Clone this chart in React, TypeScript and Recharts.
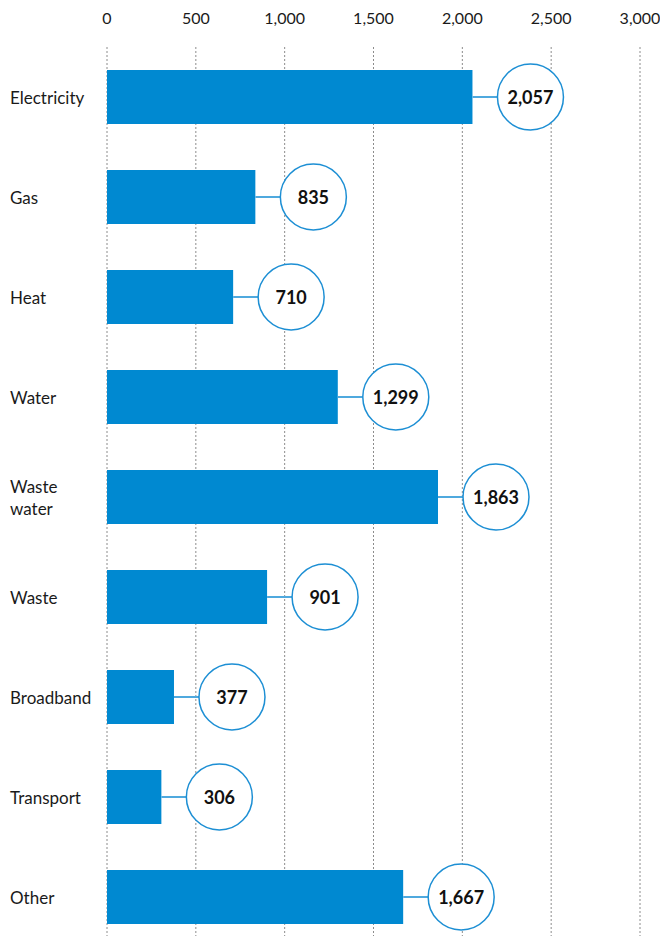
import { BarChart, Bar, XAxis, YAxis, CartesianGrid } from "recharts";

const categories = ["Electricity", "Gas", "Heat", "Water", "Waste water", "Waste", "Broadband", "Transport", "Other"];
const values = [2057, 835, 710, 1299, 1863, 901, 377, 306, 1667];
const ticks = [0, 500, 1000, 1500, 2000, 2500, 3000];

const data = categories.map((name, i) => ({ name, value: values[i] }));

const FONT = "Lato, 'Noto Sans', sans-serif";
const fmt = (v: number) => v.toLocaleString("en-US");

function CategoryTick({ y, payload }: any) {
  const lines = payload.value === "Waste water" ? ["Waste", "water"] : [payload.value];
  const lh = 22;
  const start = y - ((lines.length - 1) * lh) / 2;
  return (
    <text x={10} y={start} fontSize={17} fill="#1a1a1a" fontFamily={FONT} dominantBaseline="central">
      {lines.map((l, i) => (
        <tspan key={l} x={10} y={start + i * lh}>{l}</tspan>
      ))}
    </text>
  );
}

function BubbleBar(props: any) {
  const { x, y, width, height, value } = props;
  const end = x + width;
  const cy = y + height / 2;
  const cx = end + 58;
  const r = 33;
  return (
    <g>
      <rect x={x} y={y} width={width} height={height} fill="#0089d1" />
      <line x1={end} y1={cy} x2={cx - r} y2={cy} stroke="#4fa9de" strokeWidth={2} />
      <circle cx={cx} cy={cy} r={r} fill="#fff" stroke="#1d8fd4" strokeWidth={1.5} />
      <text x={cx} y={cy} textAnchor="middle" dominantBaseline="central" fontSize={18} fontWeight={700} fill="#111" fontFamily={FONT}>
        {fmt(value)}
      </text>
    </g>
  );
}

export default function App() {
  return (
    <div style={{ position: "absolute", left: 0, top: 0, width: 660, height: 936, overflow: "hidden", background: "#fff" }}>
      <BarChart
        width={660}
        height={947}
        data={data}
        layout="vertical"
        margin={{ top: 0, right: 20, bottom: 0, left: 0 }}
        barCategoryGap={46}
      >
        <CartesianGrid horizontal={false} stroke="#8c8c8c" strokeDasharray="2 2" />
        <XAxis
          type="number"
          orientation="top"
          domain={[0, 3000]}
          ticks={ticks}
          height={47}
          axisLine={false}
          tickLine={false}
          tickSize={0}
          tickMargin={23}
          tickFormatter={fmt}
          tick={{ fontSize: 16, fill: "#1a1a1a", fontFamily: FONT }}
          interval={0}
        />
        <YAxis
          type="category"
          dataKey="name"
          width={107}
          axisLine={false}
          tickLine={false}
          tick={<CategoryTick />}
          interval={0}
        />
        <Bar dataKey="value" barSize={54} shape={<BubbleBar />} isAnimationActive={false} />
      </BarChart>
    </div>
  );
}
